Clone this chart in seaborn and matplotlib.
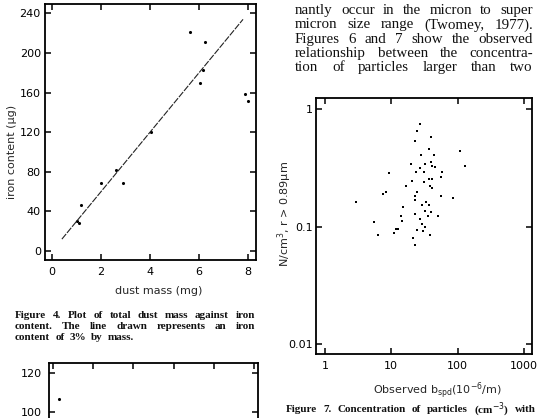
import matplotlib
matplotlib.use("Agg")
import matplotlib.pyplot as plt
import seaborn as sns
import pandas as pd
from matplotlib.ticker import FixedLocator, FixedFormatter, NullLocator

# ---------------- data ----------------
# Figure 4: dust mass vs iron content
fig4_dust_mg = [1.0, 1.1, 1.2, 2.0, 2.6, 2.9, 4.05, 5.65, 6.05, 6.15, 6.25, 7.9, 8.0]
fig4_iron_ug = [30, 28, 46, 69, 82, 69, 120, 221, 170, 183, 211, 159, 152]
fig4_line_mg = [0.4, 7.8]          # 3 % by mass line
fig4_line_ug = [12, 234]
fig4_xticks = [0, 2, 4, 6, 8]
fig4_yticks = [0, 40, 80, 120, 160, 200, 240]

# Figure 5 (only top strip visible)
fig5_x = [0.14]
fig5_y = [107]
fig5_xticks = [0, 1, 2, 3, 4, 5]
fig5_yticks = [0, 20, 40, 60, 80, 100, 120]

# Figure 7: observed b_spd vs N/cm3 (r > 0.89 um)
fig7_bspd = [27.1, 24.7, 39.7, 23.0, 36.6, 107.6, 28.1, 44.5, 130.6, 19.8,
             31.9, 39.3, 41.1, 45.2, 26.8, 9.23, 23.6, 31.5, 58.2, 55.6,
             37.0, 41.1, 31.1, 20.5, 16.7, 37.9, 40.7, 8.41, 7.42, 24.2,
             22.8, 23.0, 55.6, 86.1, 2.90, 33.4, 29.0, 37.4, 14.9, 32.6,
             39.7, 13.9, 23.0, 36.1, 50.6, 27.4, 5.43, 14.7, 29.4, 32.6,
             11.8, 12.5, 11.0, 24.2, 30.4, 6.30, 38.7, 21.2, 22.5]
fig7_conc = [0.75, 0.65, 0.58, 0.535, 0.46, 0.44, 0.41, 0.41, 0.33, 0.34,
             0.34, 0.355, 0.33, 0.32, 0.317, 0.286, 0.29, 0.29, 0.29, 0.263,
             0.256, 0.256, 0.241, 0.243, 0.222, 0.222, 0.213, 0.198, 0.19, 0.196,
             0.182, 0.17, 0.182, 0.174, 0.162, 0.161, 0.154, 0.154, 0.148, 0.137,
             0.132, 0.124, 0.129, 0.123, 0.124, 0.116, 0.110, 0.111, 0.105, 0.099,
             0.0955, 0.0955, 0.089, 0.094, 0.092, 0.085, 0.0855, 0.080, 0.0695]
fig7_xticks = [1, 10, 100, 1000]
fig7_xlabels = ["1", "10", "100", "1000"]
fig7_yticks = [0.01, 0.1, 1]
fig7_ylabels = ["0.01", "0.1", "1"]

body_lines = ["nantly occur in the micron to super",
              "micron size range (Twomey, 1977).",
              "Figures 6 and 7 show the observed",
              "relationship between the concentra-",
              "tion of particles larger than two"]
cap4_lines = ["Figure 4. Plot of total dust mass against iron",
              "content. The line drawn represents an iron",
              "content of 3% by mass."]
cap7_line = "Figure 7. Concentration of particles (cm$^{-3}$) with"

# ---------------- style ----------------
sns.set_theme(style="ticks")
plt.rcParams["font.family"] = ["DejaVu Sans"]
plt.rcParams["axes.linewidth"] = 1.2
plt.rcParams["axes.edgecolor"] = "black"

W, H = 538, 418
fig = plt.figure(figsize=(W / 100, H / 100), dpi=100)
fig.patch.set_facecolor("white")


def add_ax(left, top, right, bottom):
    return fig.add_axes([left / W, 1 - bottom / H, (right - left) / W, (bottom - top) / H])


def style_ax(ax, pad_x, pad_y, size=8.0):
    ax.tick_params(which="both", direction="in", length=4, width=1.1,
                   top=True, right=True, labelsize=size, colors="black")
    ax.tick_params(axis="x", pad=pad_x)
    ax.tick_params(axis="y", pad=pad_y)
    for s in ax.spines.values():
        s.set_visible(True)
        s.set_color("black")
        s.set_linewidth(1.3)
    ax.set_facecolor("white")
    ax.set_xlabel("")
    ax.set_ylabel("")


# ---------- Figure 4 ----------
ax4 = add_ax(45, 4, 256, 260)
sns.lineplot(x=fig4_line_mg, y=fig4_line_ug, ax=ax4, color="#222222",
             linewidth=0.8, linestyle=(0, (6, 1.2)))
sns.scatterplot(x=fig4_dust_mg, y=fig4_iron_ug, ax=ax4, color="black",
                s=5, linewidth=0, marker="o")
ax4.set_xlim(-0.29, 8.33)
ax4.set_ylim(-9.1, 249.5)
ax4.xaxis.set_major_locator(FixedLocator(fig4_xticks))
ax4.yaxis.set_major_locator(FixedLocator(fig4_yticks))
style_ax(ax4, pad_x=5, pad_y=3)
fig.text(12 / W, 1 - 152 / H, "iron content (μg)", rotation=90,
         ha="center", va="center", fontsize=8.0)
fig.text(159 / W, 1 - 291 / H, "dust mass (mg)", ha="center", va="center", fontsize=8.0)

# ---------- Figure 5 (partial) ----------
ax5 = add_ax(49, 363.3, 258, 619)
sns.scatterplot(x=fig5_x, y=fig5_y, ax=ax5, color="black", s=5, linewidth=0)
ax5.set_xlim(-0.1, 5.1)
ax5.set_ylim(-6, 125.1)
ax5.xaxis.set_major_locator(FixedLocator(fig5_xticks))
ax5.yaxis.set_major_locator(FixedLocator(fig5_yticks))
style_ax(ax5, pad_x=5, pad_y=5)
ax5.tick_params(axis="x", labelbottom=False)
ax5.yaxis.set_major_formatter(FixedFormatter(["", "", "", "", "", "100", "120"]))

# ---------- Figure 7 ----------
ax7 = add_ax(316, 98.3, 532, 354)
ax7.set_xscale("log")
ax7.set_yscale("log")
sns.scatterplot(x=fig7_bspd, y=fig7_conc, ax=ax7, color="black",
                s=4, linewidth=0, marker="s")
ax7.set_xlim(0.731, 1324)
ax7.set_ylim(0.00828, 1.233)
ax7.xaxis.set_major_locator(FixedLocator(fig7_xticks))
ax7.xaxis.set_major_formatter(FixedFormatter(fig7_xlabels))
ax7.yaxis.set_major_locator(FixedLocator(fig7_yticks))
ax7.yaxis.set_major_formatter(FixedFormatter(fig7_ylabels))
ax7.xaxis.set_minor_locator(NullLocator())
ax7.yaxis.set_minor_locator(NullLocator())
style_ax(ax7, pad_x=5, pad_y=2.5)
fig.text(285 / W, 1 - 214 / H, "N/cm$^3$, r > 0.89μm", rotation=90,
         ha="center", va="center", fontsize=8.0)
fig.text(437 / W, 1 - 390.5 / H, r"Observed b$_{\rm spd}$(10$^{-6}$/m)",
         ha="center", va="center", fontsize=8.0)

# ---------- text blocks ----------
renderer = fig.canvas.get_renderer()


def place_line(text, x0, x1, yc, justify=True, size=9.0, min_gap=2.5, **kw):
    words = text.split(" ")
    while True:
        objs = [fig.text(0, 0, w, va="center", ha="left", fontsize=size, **kw) for w in words]
        widths = [o.get_window_extent(renderer).width for o in objs]
        gap = (x1 - x0 - sum(widths)) / max(len(words) - 1, 1)
        if not justify or gap >= min_gap or size < 5:
            break
        for o in objs:
            o.remove()
        size -= 0.2
    if not justify:
        gap = size * 100 / 72 * 0.45
    x = x0
    for o, w in zip(objs, widths):
        o.set_position((x / W, 1 - yc / H))
        x += w + gap


serif = dict(family=["Liberation Serif", "DejaVu Serif"], color="#111111")
for i, ln in enumerate(body_lines):
    place_line(ln, 295, 533, 10.7 + i * 14.25, size=10.8, **serif)

for i, ln in enumerate(cap4_lines):
    place_line(ln, 15, 255, 316.0 + i * 10.6, justify=(i < 2),
               size=8.0, fontweight="bold", **serif)

place_line(cap7_line, 286, 536, 409.5, size=8.0, fontweight="bold", **serif)

fig.savefig("out.png", dpi=100, facecolor="white")
